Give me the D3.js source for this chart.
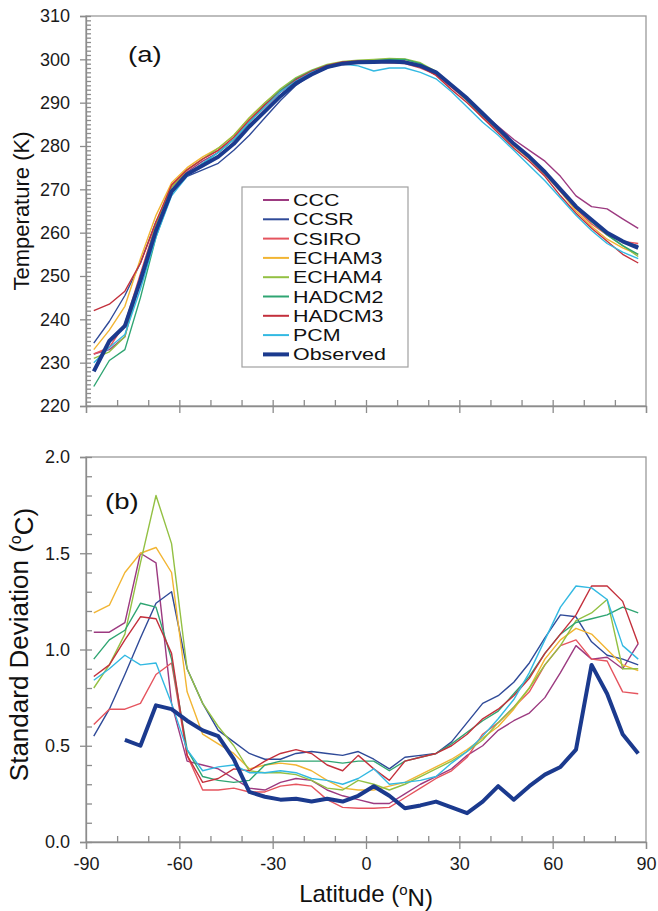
<!DOCTYPE html>
<html lang="en">
<head>
<meta charset="UTF-8">
<title>Zonal mean temperature and its standard deviation</title>
<script src="https://d3js.org/d3.v7.min.js"></script>
<style>
  body { margin: 0; background: #fff; }
  svg { font-family: "Liberation Sans", Arial, sans-serif; }
  .tick text { font-size: 18px; fill: #1a1a1a; }
  .domain, .tick line { stroke: #8c8c8c; stroke-width: 1.3px; }
  .frame { fill: none; stroke: #9a9a9a; stroke-width: 1.3px; }
  .line { fill: none; stroke-linejoin: round; }
</style>
</head>
<body>
<svg id="chart" width="658" height="911"></svg>
<script>
// latitude grid (deg N), shared by every series
const lat = [-87.5, -82.5, -77.5, -72.5, -67.5, -62.5, -57.5, -52.5, -47.5, -42.5, -37.5, -32.5,
             -27.5, -22.5, -17.5, -12.5, -7.5, -2.5, 2.5, 7.5, 12.5, 17.5, 22.5, 27.5,
             32.5, 37.5, 42.5, 47.5, 52.5, 57.5, 62.5, 67.5, 72.5, 77.5, 82.5, 87.5];

const names = ["CCC", "CCSR", "CSIRO", "ECHAM3", "ECHAM4", "HADCM2", "HADCM3", "PCM", "Observed"];
const colors = ["#9c3a80", "#2f4a98", "#e5545e", "#f2b533", "#93c043", "#2fa572", "#c3303c", "#33b9e2", "#1b3a8e"];

// (a) zonal mean temperature, K
const tCCC    = [232, 233, 236, 250, 261, 270.5, 274, 276.5, 278.5, 281.5, 285.5, 289, 292.5, 295, 297, 298.5, 299.3, 299.5, 299.6, 299.7, 299.6, 298.8, 297, 294, 290.5, 287.5, 284.5, 281.5, 279, 276.5, 273, 268.5, 266, 265.5, 263.2, 261];
const tCCSR   = [234.5, 239.5, 245.5, 253, 262.5, 269.5, 273, 274.5, 276, 279, 282.5, 286.5, 290.5, 294, 296.5, 298, 299, 299.2, 299.3, 299.4, 299.2, 298.5, 297, 294, 290.5, 287, 283.5, 280.5, 277.5, 274, 270, 266, 263, 260, 258, 257];
const tCSIRO  = [232, 233.5, 239, 250.5, 262, 271, 274.5, 277, 279, 281.5, 285.5, 289, 292.5, 295.5, 297.3, 298.6, 299.3, 299.2, 299.3, 299.2, 299, 298, 296.5, 293.5, 290.5, 286.5, 283.5, 280, 277, 273.5, 269.5, 265.5, 262, 259.5, 258, 257.5];
const tECHAM3 = [233, 237.5, 243, 254, 264, 271.5, 275, 277.5, 279.5, 282.5, 286.5, 290, 293, 295.5, 297.3, 298.5, 299.3, 299.6, 299.8, 300, 300, 299, 297, 293.8, 290.5, 287, 283.5, 280, 277, 273.5, 269.5, 265, 261.5, 258.5, 256.5, 255];
const tECHAM4 = [231, 232.5, 236, 249, 262, 270.5, 274.5, 277, 279.5, 282.5, 286.5, 290, 293.2, 295.8, 297.5, 298.8, 299.5, 299.8, 300, 300.2, 300.1, 299.2, 297.2, 294, 290.5, 287.2, 284, 280.5, 277.5, 274, 270, 266, 262.5, 259.5, 257, 254.5];
const tHADCM2 = [224.5, 230.5, 233, 245, 259, 269, 273.5, 276, 278.5, 281.5, 285.5, 289.5, 292.8, 295.5, 297.3, 298.6, 299.3, 299.5, 299.7, 300, 300, 299, 297, 294, 290.5, 287, 284, 280.5, 277.5, 274, 270, 266, 262.5, 259.5, 257, 255];
const tHADCM3 = [242, 243.5, 246.5, 253, 262.5, 271, 274.5, 277, 279, 282, 286, 289.5, 292.5, 295.3, 297.2, 298.6, 299.4, 299.6, 299.5, 299.6, 299.4, 298.3, 296.3, 293, 290, 286.5, 283, 279.5, 276.5, 273, 268.5, 264.5, 261, 258, 255, 253];
const tPCM    = [230, 233.5, 236.5, 247, 259, 268.5, 273, 276, 278.5, 281.5, 285.5, 289, 292.5, 295, 297, 298.3, 298.9, 298.5, 297.3, 298, 298, 297, 295.5, 292.5, 289, 285.5, 282.5, 279, 275.5, 272, 268, 264, 260.5, 257.5, 255.5, 254];
const tObs    = [228, 235, 238.5, 249, 260.5, 269.5, 273.5, 275.5, 277.5, 280.5, 284.5, 288, 291.5, 294.5, 296.5, 298.2, 299, 299.3, 299.4, 299.5, 299.3, 298.5, 297, 294, 291, 287.5, 284, 280.5, 277.5, 274, 270, 266, 263, 260, 258, 256.5];

// (b) standard deviation, deg C
const sdCCC    = [1.09, 1.09, 1.14, 1.50, 1.45, 0.72, 0.42, 0.40, 0.38, 0.33, 0.28, 0.27, 0.31, 0.33, 0.32, 0.27, 0.24, 0.22, 0.20, 0.20, 0.25, 0.30, 0.34, 0.38, 0.45, 0.50, 0.58, 0.63, 0.67, 0.75, 0.88, 1.02, 0.95, 0.96, 0.90, 1.03];
const sdCCSR   = [0.55, 0.69, 0.87, 1.06, 1.24, 1.30, 0.90, 0.72, 0.58, 0.52, 0.46, 0.43, 0.43, 0.46, 0.47, 0.46, 0.45, 0.47, 0.43, 0.38, 0.44, 0.45, 0.46, 0.52, 0.62, 0.72, 0.76, 0.83, 0.93, 1.06, 1.18, 1.17, 1.04, 0.97, 0.95, 0.92];
const sdCSIRO  = [0.61, 0.69, 0.69, 0.72, 0.87, 0.93, 0.45, 0.27, 0.27, 0.28, 0.26, 0.26, 0.29, 0.30, 0.29, 0.22, 0.18, 0.175, 0.175, 0.18, 0.23, 0.28, 0.33, 0.37, 0.44, 0.56, 0.62, 0.70, 0.78, 0.92, 1.02, 1.05, 0.95, 0.94, 0.78, 0.77];
const sdECHAM3 = [1.19, 1.23, 1.40, 1.50, 1.53, 1.40, 0.78, 0.56, 0.51, 0.46, 0.38, 0.40, 0.41, 0.40, 0.37, 0.32, 0.28, 0.27, 0.27, 0.29, 0.31, 0.35, 0.39, 0.43, 0.48, 0.54, 0.60, 0.69, 0.80, 0.95, 1.05, 1.11, 1.08, 1.00, 0.92, 0.89];
const sdECHAM4 = [0.80, 0.92, 1.08, 1.45, 1.80, 1.55, 0.90, 0.72, 0.60, 0.50, 0.37, 0.36, 0.36, 0.35, 0.32, 0.28, 0.27, 0.32, 0.30, 0.27, 0.30, 0.34, 0.38, 0.42, 0.47, 0.53, 0.62, 0.70, 0.80, 0.92, 1.02, 1.15, 1.19, 1.26, 0.90, 0.90];
const sdHADCM2 = [0.95, 1.05, 1.10, 1.24, 1.22, 0.95, 0.48, 0.34, 0.32, 0.31, 0.32, 0.40, 0.42, 0.42, 0.42, 0.42, 0.41, 0.42, 0.42, 0.37, 0.42, 0.44, 0.46, 0.51, 0.57, 0.63, 0.68, 0.77, 0.86, 0.98, 1.08, 1.14, 1.16, 1.18, 1.22, 1.19];
const sdHADCM3 = [0.86, 0.92, 1.05, 1.17, 1.16, 0.98, 0.45, 0.31, 0.33, 0.38, 0.37, 0.42, 0.46, 0.48, 0.46, 0.40, 0.37, 0.45, 0.38, 0.32, 0.42, 0.44, 0.46, 0.50, 0.56, 0.64, 0.69, 0.76, 0.85, 0.98, 1.08, 1.18, 1.33, 1.33, 1.25, 1.03];
const sdPCM    = [0.84, 0.90, 0.97, 0.92, 0.93, 0.72, 0.48, 0.37, 0.39, 0.40, 0.36, 0.36, 0.37, 0.36, 0.33, 0.32, 0.30, 0.33, 0.38, 0.30, 0.31, 0.32, 0.34, 0.41, 0.47, 0.55, 0.64, 0.74, 0.88, 1.05, 1.22, 1.33, 1.32, 1.26, 1.02, 0.95];
const sdObs    = [null, null, 0.53, 0.50, 0.71, 0.69, 0.63, 0.58, 0.55, 0.43, 0.26, 0.235, 0.22, 0.225, 0.21, 0.225, 0.21, 0.24, 0.29, 0.24, 0.175, 0.19, 0.21, 0.18, 0.15, 0.21, 0.29, 0.22, 0.29, 0.35, 0.39, 0.48, 0.92, 0.77, 0.56, 0.46];

const tempSeries = [tCCC, tCCSR, tCSIRO, tECHAM3, tECHAM4, tHADCM2, tHADCM3, tPCM, tObs];
const sdSeries = [sdCCC, sdCCSR, sdCSIRO, sdECHAM3, sdECHAM4, sdHADCM2, sdHADCM3, sdPCM, sdObs];

const svg = d3.select("#chart");
const x = d3.scaleLinear().domain([-90, 90]).range([86, 646]);

function drawPanel(y, series, opt) {
  const [top, bottom] = [y.range()[1], y.range()[0]];
  const g = svg.append("g");

  g.append("rect").attr("class", "frame")
    .attr("x", x(-90)).attr("y", top)
    .attr("width", x(90) - x(-90)).attr("height", bottom - top);

  // minor ticks, pointing inward
  g.append("g").attr("transform", `translate(${x(-90)},0)`)
    .call(d3.axisRight(y).tickValues(opt.minorY).tickSize(opt.minorLen).tickFormat(""))
    .call(a => a.select(".domain").remove());
  g.append("g").attr("transform", `translate(0,${bottom})`)
    .call(d3.axisTop(x).tickValues(d3.range(-80, 90, 10)).tickSize(6).tickFormat(""))
    .call(a => a.select(".domain").remove());

  // major ticks and labels
  g.append("g").attr("transform", `translate(${x(-90)},0)`)
    .call(d3.axisLeft(y).tickValues(opt.majorY).tickSize(6).tickPadding(10).tickFormat(opt.fmt));
  const xa = g.append("g").attr("transform", `translate(0,${bottom})`)
    .call(d3.axisBottom(x).tickValues([-90, -60, -30, 0, 30, 60, 90]).tickSize(7).tickPadding(8)
      .tickFormat(d => String(d)));
  if (!opt.xLabels) xa.selectAll("text").remove();

  const line = d3.line()
    .defined(d => d[1] != null)
    .x(d => x(d[0]))
    .y(d => y(d[1]));

  g.append("g").selectAll("path")
    .data(series.map((s, i) => ({ i, pts: lat.map((l, k) => [l, s[k]]) })))
    .join("path")
    .attr("class", "line")
    .style("stroke", d => colors[d.i])
    .style("stroke-width", d => d.i === 8 ? "4px" : "1.4px")
    .attr("d", d => line(d.pts));

  g.append("text")
    .attr("transform", `translate(${opt.tagX},${opt.tagY}) scale(1.25,1)`)
    .style("font-size", "22px").attr("fill", "#111")
    .text(opt.tag);

  g.append("text")
    .attr("transform", `translate(${opt.ylx},${(top + bottom) / 2 + opt.yly}) rotate(-90)`)
    .attr("text-anchor", "middle")
    .style("font-size", opt.ylSize + "px").attr("fill", "#111")
    .call(t => opt.ylab(t));
}

drawPanel(d3.scaleLinear().domain([220, 310]).range([406, 16]), tempSeries, {
  minorY: d3.range(220, 311, 1), minorLen: 5,
  majorY: d3.range(220, 311, 10), fmt: d3.format("d"),
  xLabels: false, tag: "(a)", tagX: 128, tagY: 62,
  ylx: 29, yly: 0, ylSize: 22,
  ylab: t => t.text("Temperature (K)")
});

drawPanel(d3.scaleLinear().domain([0, 2]).range([842, 457]), sdSeries, {
  minorY: d3.range(0, 2.01, 0.1), minorLen: 6,
  majorY: [0, 0.5, 1, 1.5, 2], fmt: d3.format(".1f"),
  xLabels: true, tag: "(b)", tagX: 105, tagY: 509,
  ylx: 28, yly: -5, ylSize: 26,
  ylab: t => {
    t.append("tspan").text("Standard Deviation (");
    t.append("tspan").attr("dy", "-0.45em").style("font-size", "16px").text("o");
    t.append("tspan").attr("dy", "0.45em").text("C)");
  }
});

// x axis title
const xt = svg.append("text")
  .attr("x", 366).attr("y", 902)
  .attr("text-anchor", "middle")
  .style("font-size", "24px").attr("fill", "#111");
xt.append("tspan").text("Latitude (");
xt.append("tspan").attr("dy", "-0.45em").style("font-size", "15px").text("o");
xt.append("tspan").attr("dy", "0.45em").text("N)");

// legend
const legend = svg.append("g");
legend.append("rect")
  .attr("x", 242).attr("y", 187).attr("width", 166).attr("height", 180)
  .attr("fill", "#fff").attr("stroke", "#a0a0a0").attr("stroke-width", 1.2);
const rows = legend.selectAll("g.row").data(names).join("g")
  .attr("class", "row")
  .attr("transform", (d, i) => `translate(0,${200 + i * 19.3})`);
rows.append("line")
  .attr("x1", 263).attr("x2", 289)
  .attr("stroke", (d, i) => colors[i])
  .attr("stroke-width", (d, i) => i === 8 ? 4 : 2);
rows.append("text")
  .attr("transform", "translate(293,6) scale(1.3,1)")
  .style("font-size", "16.5px").attr("fill", "#111")
  .text(d => d);
</script>
</body>
</html>
